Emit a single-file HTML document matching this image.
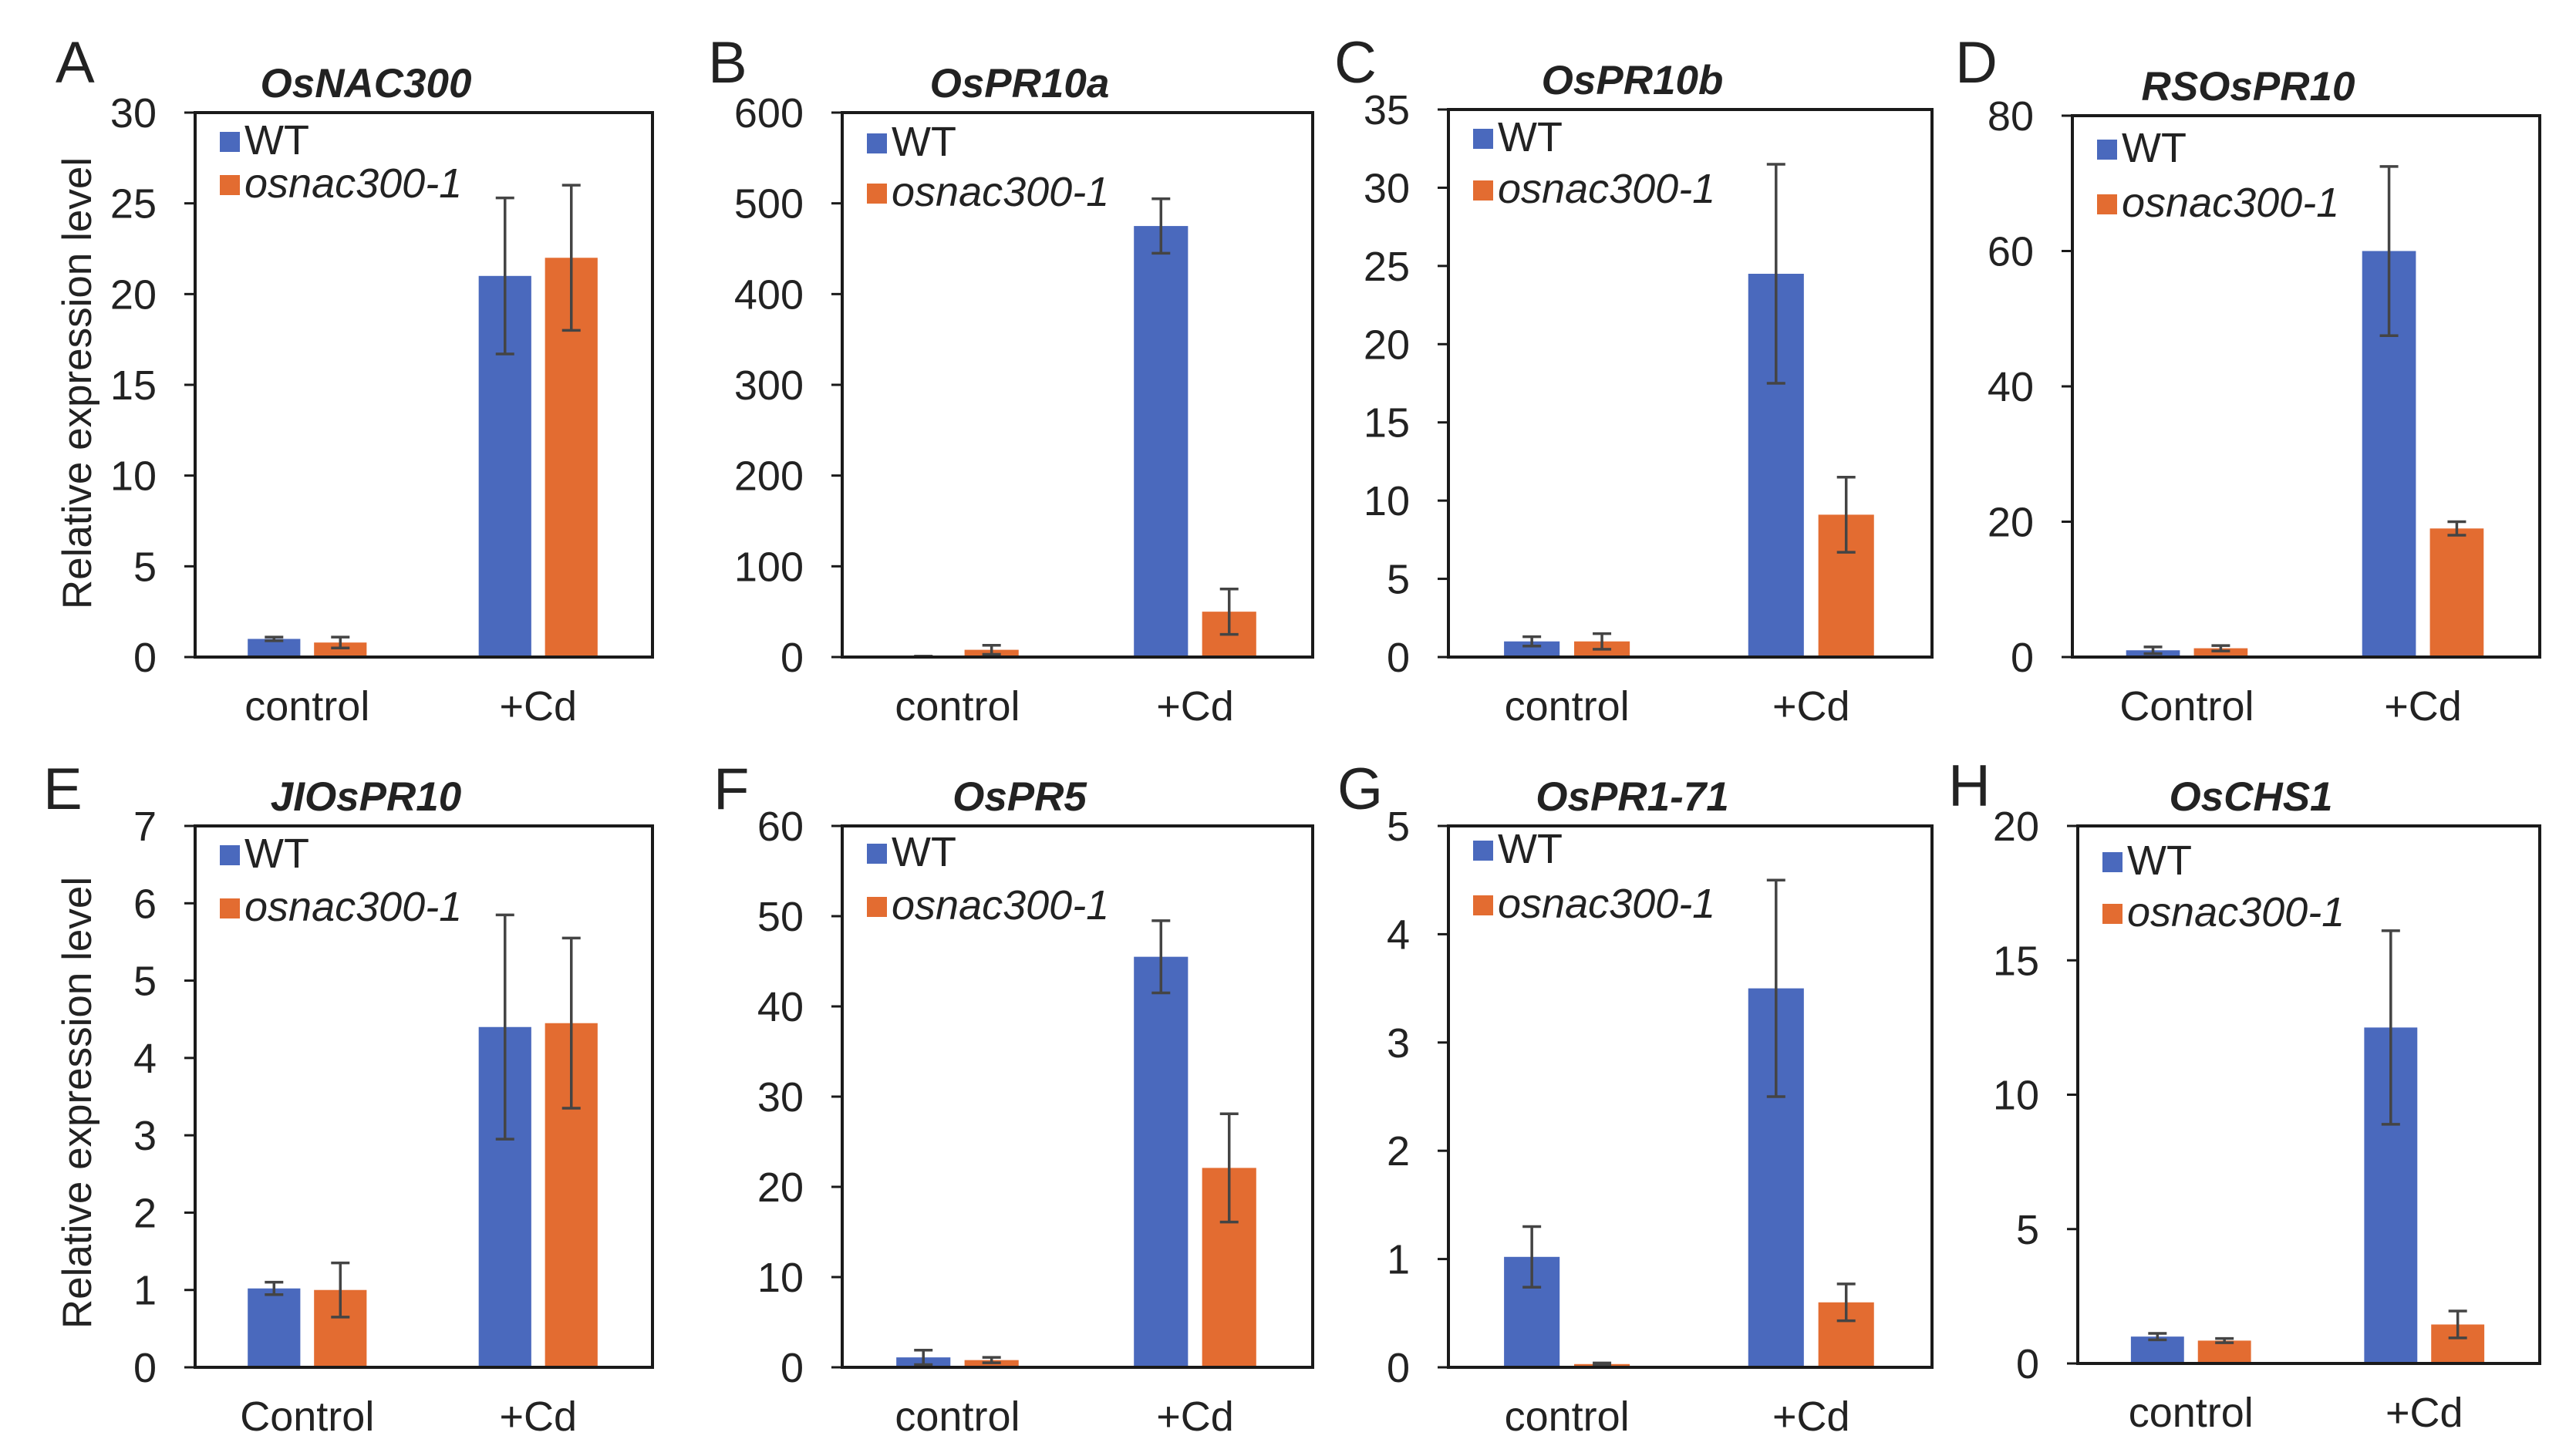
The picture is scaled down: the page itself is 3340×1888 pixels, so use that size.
<!DOCTYPE html>
<html><head><meta charset="utf-8">
<style>
html,body{margin:0;padding:0;background:#fff;}
svg{display:block;}
text{font-family:"Liberation Sans",Arial,sans-serif;fill:#222;}
</style></head>
<body>
<svg id="fig" width="3340" height="1888" viewBox="0 0 3340 1888" xmlns="http://www.w3.org/2000/svg"></svg>
<script>
const panelLetters = ["A","B","C","D","E","F","G","H"];
const geneTitles = ["OsNAC300","OsPR10a","OsPR10b","RSOsPR10","JIOsPR10","OsPR5","OsPR1-71","OsCHS1"];
const categoryLabels = [["control","+Cd"],["control","+Cd"],["control","+Cd"],["Control","+Cd"],["Control","+Cd"],["control","+Cd"],["control","+Cd"],["control","+Cd"]];
const yMax = [30,600,35,80,7,60,5,20];
const yStep = [5,100,5,20,1,10,1,5];
const wtValues = [[1.0,21.0],[1,475],[1.0,24.5],[1.0,60],[1.02,4.4],[1.1,45.5],[1.02,3.5],[1.0,12.5]];
const wtErrors = [[0.1,4.3],[0,30],[0.3,7],[0.5,12.5],[0.08,1.45],[0.8,4],[0.28,1.0],[0.12,3.6]];
const mutValues = [[0.8,22.0],[8,50],[1.0,9.1],[1.3,19],[1.0,4.45],[0.8,22.1],[0.03,0.6],[0.85,1.45]];
const mutErrors = [[0.3,4.0],[5,25],[0.5,2.4],[0.4,1.0],[0.35,1.1],[0.3,6],[0.01,0.17],[0.08,0.5]];

const NS="http://www.w3.org/2000/svg";
const svg=document.getElementById('fig');
function mk(tag,attrs,parent){const e=document.createElementNS(NS,tag);for(const k in attrs)e.setAttribute(k,attrs[k]);(parent||svg).appendChild(e);return e;}

const boxes=[
 {x0:253,x1:846,y0:146,y1:852,lx:72,ly:107,leg:[40,96]},
 {x0:1092,x1:1702,y0:146,y1:852,lx:918,ly:107,leg:[42,107]},
 {x0:1878,x1:2505,y0:142,y1:852,lx:1730,ly:107,leg:[40,107]},
 {x0:2687,x1:3293,y0:150,y1:852,lx:2535,ly:107,leg:[46,117]},
 {x0:253,x1:846,y0:1071,y1:1773,lx:56,ly:1049,leg:[40,109]},
 {x0:1092,x1:1702,y0:1071,y1:1773,lx:925,ly:1049,leg:[38,107]},
 {x0:1878,x1:2505,y0:1071,y1:1773,lx:1734,ly:1049,leg:[34,105]},
 {x0:2694,x1:3293,y0:1071,y1:1768,lx:2526,ly:1045,leg:[49,116]}
];
const BLUE="#4a69bd", ORANGE="#e36c31";

boxes.forEach((b,i)=>{
  const g=mk('g',{});
  
  
  const W=b.x1-b.x0;
  const yS=v=>b.y1-(v/yMax[i])*(b.y1-b.y0);
  const xC=[b.x0+W*0.245,b.x0+W*0.75];
  const bw=W*0.115, gap=W*0.03;

  const L=mk('text',{x:b.lx,y:b.ly,'font-size':76},g);L.textContent=panelLetters[i];
  
  
  const T=mk('text',{x:(b.x0+b.x1)/2-75,y:b.y0-20,'font-size':53,'font-weight':'bold','font-style':'italic','text-anchor':'middle'},g);T.textContent=geneTitles[i];
  
  

  for(let c=0;c<2;c++){
    [[wtValues,wtErrors,BLUE,-1],[mutValues,mutErrors,ORANGE,1]].forEach(([vals,errs,col,side])=>{
      const v=vals[i][c], e=errs[i][c];
      const cx=xC[c]+side*(gap/2+bw/2);
      const r=mk('rect',{x:cx-bw/2,y:yS(v),width:bw,height:b.y1-yS(v),fill:col},g);
      
      
      const eb=mk('path',{d:`M${cx},${yS(v+e)}V${yS(Math.max(v-e,0))}M${cx-12},${yS(v+e)}h24M${cx-12},${yS(Math.max(v-e,0))}h24`,stroke:'#444',"stroke-width":3.5,fill:'none'},g);
      
      
    });
    const cl=mk('text',{x:xC[c],y:b.y1+82,'font-size':54,'text-anchor':'middle'},g);cl.textContent=categoryLabels[i][c];
    
    
  }
  const bx=mk('rect',{x:b.x0,y:b.y0,width:W,height:b.y1-b.y0,fill:'none',stroke:'#1a1a1a','stroke-width':4},g);
  
  
  for(let v=0;v<=yMax[i]+1e-9;v+=yStep[i]){
    const y=yS(v);
    const tk=mk('line',{x1:b.x0-14,x2:b.x0,y1:y,y2:y,stroke:'#1a1a1a','stroke-width':3},g);
    
    
    const tl=mk('text',{x:b.x0-50,y:y+19,'font-size':54,'text-anchor':'end'},g);tl.textContent=String(Math.round(v*100)/100);
    
    
  }
  [[BLUE,'WT',b.leg[0],false],[ORANGE,'osnac300-1',b.leg[1],true]].forEach(([col,txt,dy,it])=>{
    const sq=mk('rect',{x:b.x0+32,y:b.y0+dy-15,width:26,height:26,fill:col},g);
    
    
    const lt=mk('text',{x:b.x0+64,y:b.y0+dy+14,'font-size':54,'font-style':it?'italic':'normal'},g);lt.textContent=txt;
    
    
  });
});
[[497],[1430]].forEach(([cy],k)=>{
  const t=mk('text',{x:0,y:0,'font-size':53,'text-anchor':'middle',transform:`translate(118,${cy}) rotate(-90)`});
  t.textContent='Relative expression level';
  
  
});
</script>
</body></html>
